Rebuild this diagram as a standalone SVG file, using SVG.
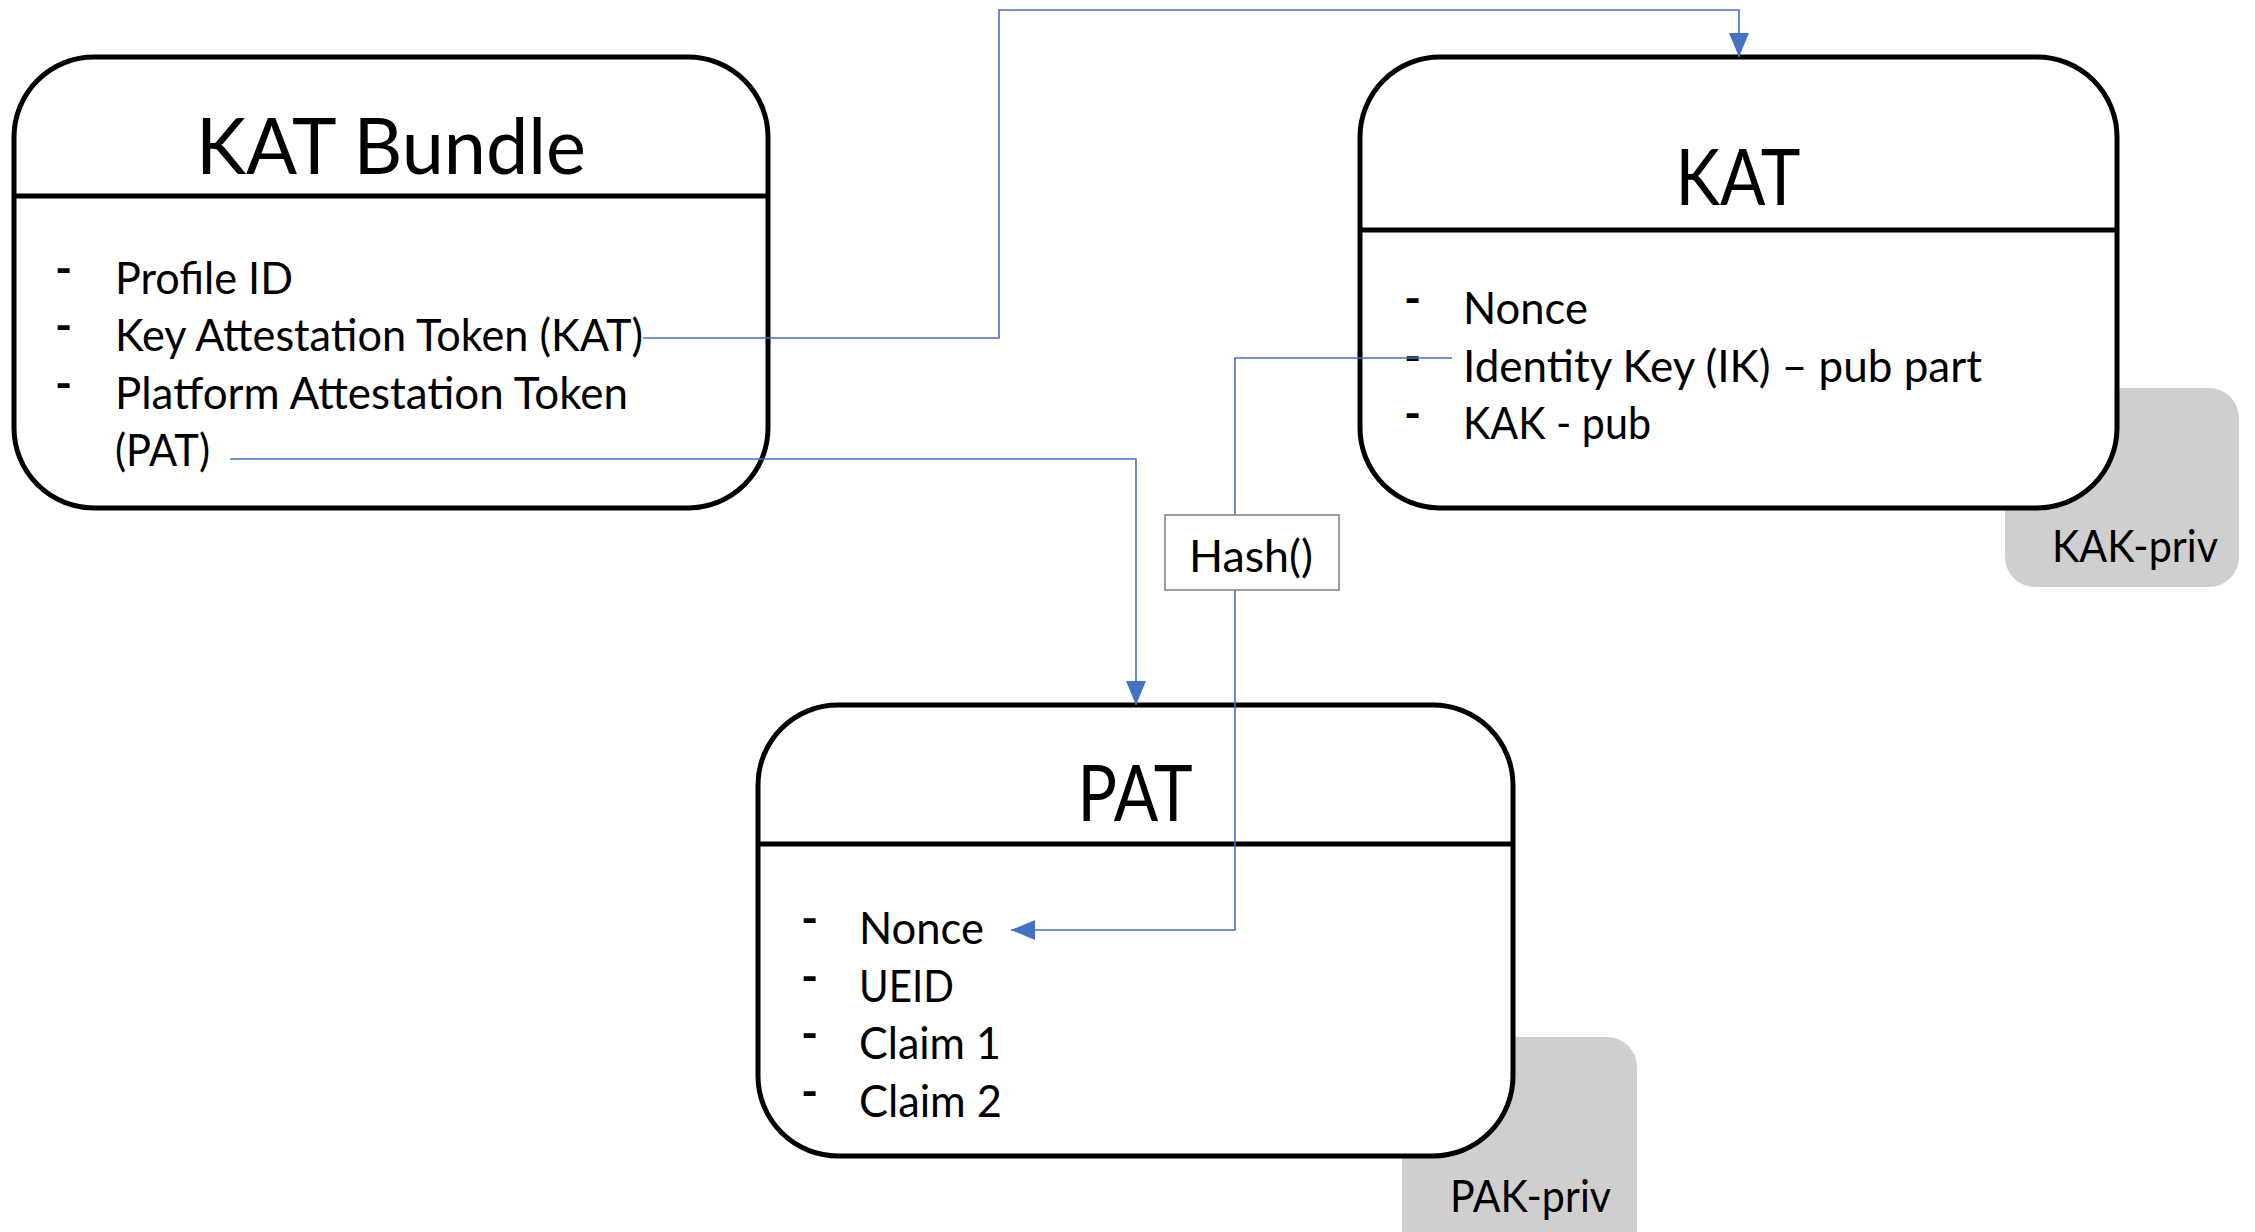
<svg xmlns="http://www.w3.org/2000/svg" width="2255" height="1232" viewBox="0 0 2255 1232">
<style>
.box{fill:#fff;stroke:#000;stroke-width:5}
.div{stroke:#000;stroke-width:5}
.key{fill:#D0CECE}
.title{font-family:Lato,"Liberation Sans",sans-serif;font-size:78px;fill:#000;text-anchor:middle}
.item{font-family:Lato,"Liberation Sans",sans-serif;font-size:45px;fill:#000}
.dash{font-family:Lato,"Liberation Sans",sans-serif;font-size:46px;font-weight:bold;fill:#000}
.small{font-family:Lato,"Liberation Sans",sans-serif;font-size:45px;fill:#000}
.conn{fill:none;stroke:#4472C4;stroke-width:1.6}
</style>
<defs>
<marker id="arr" markerUnits="userSpaceOnUse" markerWidth="24" markerHeight="20" refX="24" refY="10" orient="auto">
<path d="M0,0 L24,10 L0,20 z" fill="#4472C4"/>
</marker>
</defs>
<g id="kak-priv">
<rect class="key" x="2005" y="388" width="234" height="199" rx="30"/>
<text class="small" x="2052" y="562" textLength="166" lengthAdjust="spacingAndGlyphs">KAK-priv</text>
</g>
<g id="pak-priv">
<rect class="key" x="1402" y="1037" width="235" height="230" rx="30"/>
<text class="small" x="1450" y="1212" textLength="161" lengthAdjust="spacingAndGlyphs">PAK-priv</text>
</g>
<g id="kat-bundle">
<rect class="box" x="14" y="57" width="754" height="451" rx="80"/>
<line class="div" x1="14" y1="196" x2="768" y2="196"/>
<text class="title" x="391" y="174" textLength="390" lengthAdjust="spacingAndGlyphs">KAT Bundle</text>
<text class="dash" x="55" y="285">-</text>
<text class="item" x="115" y="294" textLength="178" lengthAdjust="spacingAndGlyphs">Profile ID</text>
<text class="dash" x="55" y="342">-</text>
<text class="item" x="115" y="351" textLength="528" lengthAdjust="spacingAndGlyphs">Key Attestation Token (KAT)</text>
<text class="dash" x="55" y="400">-</text>
<text class="item" x="115" y="409" textLength="513" lengthAdjust="spacingAndGlyphs">Platform Attestation Token</text>
<text class="item" x="115" y="466" textLength="95" lengthAdjust="spacingAndGlyphs">(PAT)</text>
</g>
<g id="kat">
<rect class="box" x="1360" y="57" width="757" height="451" rx="80"/>
<line class="div" x1="1360" y1="230" x2="2117" y2="230"/>
<text class="title" x="1738" y="205" textLength="125" lengthAdjust="spacingAndGlyphs">KAT</text>
<text class="dash" x="1404" y="315">-</text>
<text class="item" x="1463" y="324" textLength="125" lengthAdjust="spacingAndGlyphs">Nonce</text>
<text class="dash" x="1404" y="373">-</text>
<text class="item" x="1463" y="382" textLength="519" lengthAdjust="spacingAndGlyphs">Identity Key (IK) – pub part</text>
<text class="dash" x="1404" y="430">-</text>
<text class="item" x="1463" y="439" textLength="188" lengthAdjust="spacingAndGlyphs">KAK - pub</text>
</g>
<g id="pat">
<rect class="box" x="758" y="705" width="755" height="451" rx="80"/>
<line class="div" x1="758" y1="844" x2="1513" y2="844"/>
<text class="title" x="1135" y="821" textLength="115" lengthAdjust="spacingAndGlyphs">PAT</text>
<text class="dash" x="801" y="935">-</text>
<text class="item" x="859" y="944" textLength="125" lengthAdjust="spacingAndGlyphs">Nonce</text>
<text class="dash" x="801" y="993">-</text>
<text class="item" x="859" y="1002" textLength="95" lengthAdjust="spacingAndGlyphs">UEID</text>
<text class="dash" x="801" y="1050">-</text>
<text class="item" x="859" y="1059" textLength="142" lengthAdjust="spacingAndGlyphs">Claim 1</text>
<text class="dash" x="801" y="1108">-</text>
<text class="item" x="859" y="1117" textLength="143" lengthAdjust="spacingAndGlyphs">Claim 2</text>
</g>
<g id="connectors">
<polyline class="conn" points="643,338 999,338 999,10 1739,10 1739,57" marker-end="url(#arr)"/>
<polyline class="conn" points="230,459 1136,459 1136,705" marker-end="url(#arr)"/>
<polyline class="conn" points="1452,358 1235,358 1235,930 1011,930" marker-end="url(#arr)"/>
</g>
<g id="hash">
<rect x="1165" y="515" width="174" height="75" fill="#fff" stroke="#7F7F7F" stroke-width="1.5"/>
<text class="small" x="1189" y="572" textLength="124" lengthAdjust="spacingAndGlyphs">Hash()</text>
</g>
</svg>
